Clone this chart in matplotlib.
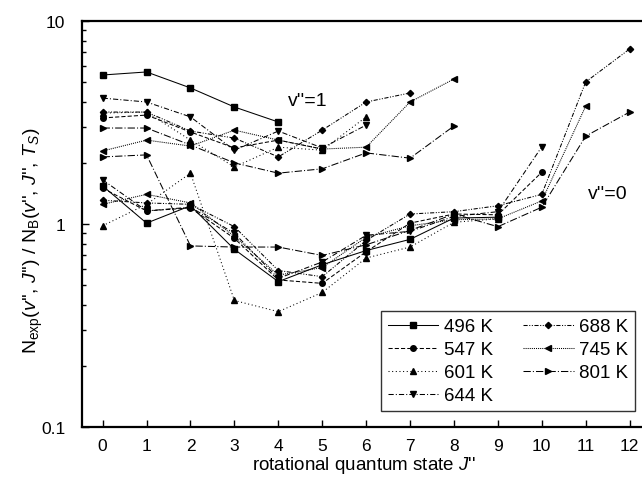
import numpy as np
import matplotlib
matplotlib.use("Agg")
from matplotlib import pyplot as plt
from matplotlib.ticker import FixedLocator, LogLocator, NullFormatter

plt.rcParams['font.family'] = ['Liberation Sans', 'DejaVu Sans']
plt.rcParams['mathtext.fontset'] = 'custom'
plt.rcParams['mathtext.rm'] = 'Liberation Sans'
plt.rcParams['mathtext.it'] = 'Liberation Sans:italic'

# temperatures for legend
labels = ['496 K', '547 K', '601 K', '644 K', '688 K', '745 K', '801 K']

# v''=1 populations (starting at J''=0)
v1_496 = [5.42, 5.61, 4.68, 3.77, 3.18]
v1_547 = [3.33, 3.44, 2.84, 2.37, 2.59, 2.34]
v1_601 = [3.52, 3.56, 2.59, 1.91, 2.39, 2.31, 3.37]
v1_644 = [4.17, 3.99, 3.37, 2.31, 2.87, 2.37, 3.07]
v1_688 = [3.56, 3.56, 2.87, 2.65, 2.14, 2.90, 3.99, 4.42]
v1_745 = [2.29, 2.59, 2.42, 2.90, 2.59, 2.34, 2.39, 3.99, 5.18]
v1_801 = [2.97, 2.97, 2.45, 2.00, 1.78, 1.87, 2.24, 2.11, 3.04]

# v''=0 populations (starting at J''=0)
v0_496 = [1.54, 1.01, 1.23, 0.75, 0.52, 0.63, 0.74, 0.84, 1.07, 1.08]
v0_547 = [1.50, 1.16, 1.20, 0.85, 0.53, 0.51, 0.73, 1.01, 1.12, 1.11, 1.80]
v0_601 = [0.98, 1.25, 1.78, 0.42, 0.37, 0.46, 0.68, 0.77, 1.02, 1.06]
v0_644 = [1.65, 1.16, 1.21, 0.90, 0.54, 0.65, 0.88, 0.92, 1.09, 1.15, 2.40]
v0_688 = [1.31, 1.27, 1.25, 0.97, 0.59, 0.55, 0.83, 1.12, 1.15, 1.23, 1.40, 5.01, 7.28]
v0_745 = [1.25, 1.40, 1.27, 0.87, 0.56, 0.61, 0.86, 0.98, 1.05, 1.06, 1.30, 3.81]
v0_801 = [2.14, 2.19, 0.78, 0.77, 0.77, 0.70, 0.79, 0.93, 1.12, 0.97, 1.21, 2.71, 3.56]

v1_sets = [v1_496, v1_547, v1_601, v1_644, v1_688, v1_745, v1_801]
v0_sets = [v0_496, v0_547, v0_601, v0_644, v0_688, v0_745, v0_801]

styles = [('-', 's'), ((0, (4, 2)), 'o'), ((0, (1, 2.5)), '^'), ((0, (5, 2, 1, 2)), 'v'),
          ((0, (4, 1.5, 1, 1.5, 1, 1.5)), 'D'), ((0, (1, 1)), '<'), ((0, (7, 2, 1, 2)), '>')]

fig = plt.figure(figsize=(6.42, 4.81), dpi=100)
ax = fig.add_axes([82/642, 1-428/481, 563/642, 406/481])

for lab, d1, d0, (ls, mk) in zip(labels, v1_sets, v0_sets, styles):
    ms = 3.2 if mk == 'D' else 4
    ax.plot(np.arange(len(d1)), d1, color='black', lw=0.75, ls=ls, marker=mk, ms=ms)
    ax.plot(np.arange(len(d0)), d0, color='black', lw=0.75, ls=ls, marker=mk, ms=ms, label=lab)

ax.set_yscale('log')
ax.set_ylim(0.1, 10)
ax.set_xlim(-0.47, 12.35)
ax.xaxis.set_major_locator(FixedLocator(range(13)))
ax.yaxis.set_major_locator(FixedLocator([0.1, 1, 10]))
ax.yaxis.set_minor_locator(LogLocator(base=10, subs=np.arange(2, 10)))
ax.yaxis.set_minor_formatter(NullFormatter())
ax.set_yticklabels(['0.1', '1', '10'])
ax.tick_params(which='both', direction='in', labelsize=12.5, top=False, right=False)
ax.tick_params(which='major', length=5, width=1)
ax.tick_params(which='minor', length=3, width=1)
ax.tick_params(axis='x', pad=8)
ax.tick_params(axis='y', pad=12)
for s in ax.spines.values():
    s.set_linewidth(1.6)

ax.set_xlabel("rotational quantum state $J$''", fontsize=13.5, labelpad=1)
ax.set_ylabel(r"N$_{\mathrm{exp}}$($v$'', $J$'') / N$_{\mathrm{B}}$($v$'', $J$'', $T_S$)",
              fontsize=14)
ax.yaxis.set_label_coords(-0.066, 0.46)

ax.text(4.68, 4.08, "v''=1", fontsize=14, ha='center', va='center')
ax.text(11.5, 1.42, "v''=0", fontsize=14, ha='center', va='center')

leg = ax.legend(ncol=2, loc='lower right', fontsize=13.5, frameon=True, fancybox=False,
                edgecolor='black', handlelength=2.7, columnspacing=1.6, handletextpad=0.3,
                labelspacing=0.32, borderpad=0.35, borderaxespad=0)
leg.set_bbox_to_anchor((635/642, 1-412/481), transform=fig.transFigure)
leg.get_frame().set_linewidth(1.0)

fig.savefig('out.png', dpi=100)
